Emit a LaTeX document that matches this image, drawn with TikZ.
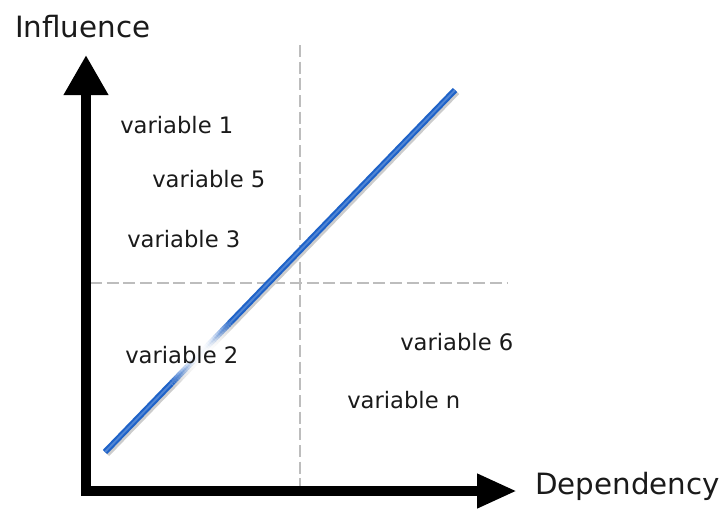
\documentclass[tikz,border=0pt]{standalone}
\usepackage{fontspec}
\setmainfont{DejaVu Sans}
\usepackage{tikz}
\usetikzlibrary{arrows.meta,calc}
\definecolor{trendblue}{HTML}{1E62C8}
\definecolor{gridgray}{HTML}{BDBDBD}
\definecolor{ink}{HTML}{1A1A1A}

\begin{document}
\begin{tikzpicture}[
  x=0.75pt, y=-0.75pt,
  lbl/.style={anchor=base west, inner sep=0pt, text=ink, font=\fontsize{17}{20}\selectfont},
  axlbl/.style={anchor=base west, inner sep=0pt, text=ink, font=\fontsize{22}{26}\selectfont},
  ax/.style={line width=8pt, line join=miter},
  grid/.style={gridgray, line width=0.8pt, dash pattern=on 9pt off 3.5pt},
  trend/.style={trendblue, line width=4.5pt,
    preaction={draw=black!20, line width=4.5pt, transform canvas={shift={(1.5pt,-1.5pt)}}},
    postaction={draw=trendblue!78!white, line width=1.4pt}}
]
\useasboundingbox (0,0) rectangle (723,511);
\coordinate (orig) at (86,491);
\coordinate (ytip) at (86,55);
\coordinate (xtip) at (517,491);
\coordinate (vtop) at (300,45);
\coordinate (vbot) at (300,491);
\coordinate (hl) at (90,283);
\coordinate (hr) at (507,283);
\coordinate (lo) at (105,452);
\coordinate (hi) at (455,90);

% quadrant lines
\draw[grid] (vtop) -- (vbot);
\draw[grid] (hl) -- (hr);

% trend line, fading out behind variable 2
\draw[trend] (lo) -- ($(lo)!0.19!(hi)$);
\draw[trend] ($(lo)!0.36!(hi)$) -- (hi);
\foreach \i in {38,...,71}{
  \pgfmathsetmacro\op{max(0.02,min(1,(abs((\i+0.5)/200-0.275)/0.085)^2))}
  \draw[black!20, line width=4.5pt, draw opacity=\op, transform canvas={shift={(1.5pt,-1.5pt)}}] ($(lo)!\i/200!(hi)$) -- ($(lo)!\i/200+0.005!(hi)$);
  \draw[trendblue, line width=4.5pt, draw opacity=\op] ($(lo)!\i/200!(hi)$) -- ($(lo)!\i/200+0.005!(hi)$);
  \draw[trendblue!78!white, line width=1.4pt, draw opacity=\op] ($(lo)!\i/200!(hi)$) -- ($(lo)!\i/200+0.005!(hi)$);
}

% axes
\draw[ax, {Triangle[length=30pt,width=31.5pt]}-{Triangle[length=30pt,width=24pt]}] (ytip) -- (orig) -- (xtip);
\node[axlbl] (infl) at (15,37) {Influence};
\node[axlbl] (dep) at (535,494) {Dependency};

\node[lbl] (v1) at (120,133) {variable 1};
\node[lbl] (v5) at (152,187) {variable 5};
\node[lbl] (v3) at (127,247) {variable 3};
\node[lbl] (v2) at (125,363) {variable 2};
\node[lbl] (v6) at (400,350) {variable 6};
\node[lbl] (vn) at (347,408) {variable n};
\end{tikzpicture}
\end{document}
